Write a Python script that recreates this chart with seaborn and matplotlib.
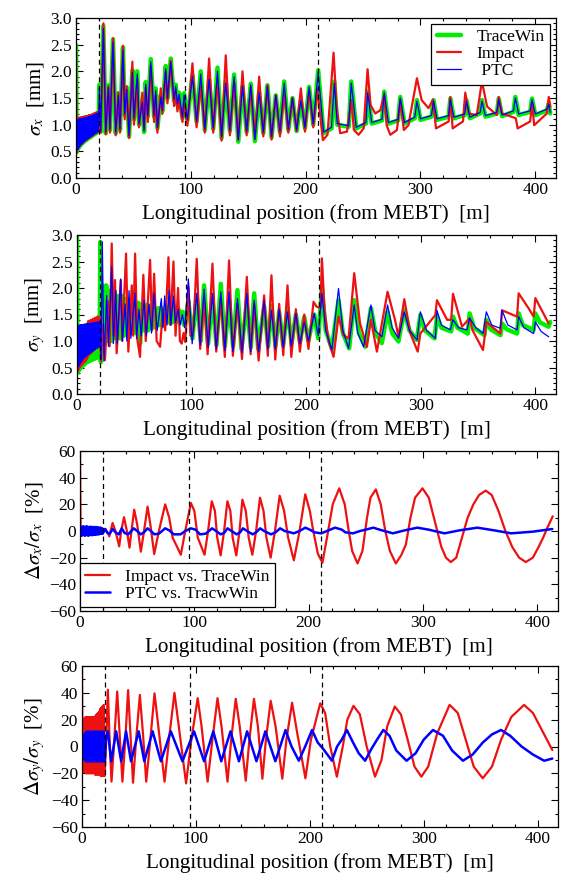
import numpy as np
import pandas as pd
import matplotlib
matplotlib.use("Agg")
import matplotlib.pyplot as plt
import seaborn as sns
from matplotlib.ticker import MultipleLocator

sns.set_theme(style="ticks")
plt.rcParams['font.family'] = ['Liberation Serif', 'DejaVu Serif']
plt.rcParams['mathtext.fontset'] = 'stix'
plt.rcParams['text.color'] = 'black'
plt.rcParams['axes.labelcolor'] = 'black'

# positions (m) of the fast oscillation in the first 20 m
fast_x = [0.0, 0.5, 1.0, 1.5, 2.0, 2.5, 3.0, 3.5, 4.0, 4.5, 5.0, 5.5, 6.0, 6.5, 7.0, 7.5,
          8.0, 8.5, 9.0, 9.5, 10.0, 10.5, 11.0, 11.5, 12.0, 12.5, 13.0, 13.5, 14.0, 14.5,
          15.0, 15.5, 16.0, 16.5, 17.0, 17.5, 18.0, 18.5, 19.0, 19.5]

# ---- sigma_x [mm] ----
sx_fast = [2.50, 0.48, 1.10, 0.53, 1.10, 0.57, 1.11, 0.60, 1.11, 0.63, 1.12, 0.65, 1.12, 0.67,
           1.13, 0.69, 1.13, 0.71, 1.14, 0.72, 1.14, 0.74, 1.15, 0.75, 1.16, 0.77, 1.16, 0.78,
           1.17, 0.80, 1.18, 0.81, 1.19, 0.83, 1.20, 0.84, 1.21, 0.86, 1.22, 0.87]
sx_ptc_fast = [0.50, 0.48, 1.10, 0.53, 1.10, 0.57, 1.11, 0.60, 1.11, 0.63, 1.12, 0.65, 1.12, 0.67,
               1.13, 0.69, 1.13, 0.71, 1.14, 0.72, 1.14, 0.74, 1.15, 0.75, 1.16, 0.77, 1.16, 0.78,
               1.17, 0.80, 1.18, 0.81, 1.19, 0.83, 1.20, 0.84, 1.21, 0.86, 1.22, 0.87]
sx_imp_fast = [2.50, 0.48, 1.12, 0.53, 1.12, 0.57, 1.13, 0.60, 1.13, 0.63, 1.14, 0.65, 1.14, 0.67,
               1.15, 0.69, 1.15, 0.71, 1.16, 0.72, 1.16, 0.74, 1.17, 0.75, 1.18, 0.77, 1.18, 0.78,
               1.19, 0.80, 1.20, 0.81, 1.21, 0.83, 1.22, 0.84, 1.23, 0.86, 1.24, 0.87]

sx_tw = [(19.9, 1.20), (20.3, 1.75), (21.5, 0.87), (23.8, 2.85), (25.9, 0.84), (28.2, 1.74),
         (29.6, 0.90), (32.2, 2.60), (34.6, 0.84), (36.9, 1.59), (38.3, 0.90), (40.9, 2.45),
         (42.4, 1.18), (44.1, 1.70), (46.2, 0.78), (49.1, 2.02), (50.5, 1.10), (53.4, 2.00),
         (54.9, 1.00), (57.8, 1.45), (59.3, 0.86), (60.7, 1.80), (62.5, 1.15), (65.1, 2.23),
         (68.0, 1.15), (69.4, 1.68), (70.9, 0.93), (73.8, 1.55), (75.2, 1.25), (78.1, 2.10),
         (79.6, 1.49), (82.5, 2.24), (85.4, 1.45), (86.8, 1.75), (88.3, 1.37), (89.8, 1.60),
         (92.7, 1.12), (94.1, 1.59), (97.0, 1.08),
         (101.4, 1.93), (105.0, 1.05), (108.6, 2.00), (112.2, 0.90), (115.9, 1.85), (119.5, 0.92),
         (123.2, 2.07), (126.8, 0.75), (130.4, 1.80), (134.0, 0.88), (137.7, 1.94), (141.3, 0.68),
         (145.0, 1.72), (148.6, 0.86), (152.2, 1.77), (155.8, 0.69), (159.5, 1.60), (163.1, 0.84),
         (166.7, 1.74), (170.3, 0.76), (174.0, 1.55), (177.6, 0.86), (181.3, 1.81), (184.9, 0.90),
         (188.5, 1.50), (192.1, 0.88), (195.8, 1.45), (199.4, 0.93), (203.0, 1.71), (206.6, 1.00),
         (210.9, 2.02),
         (215.6, 0.84), (222.5, 0.93), (224.9, 1.81), (227.5, 1.00), (237.5, 0.96), (239.7, 1.81),
         (244.0, 0.93), (252.5, 1.02), (254.0, 1.62), (257.5, 1.02), (266.5, 1.08), (268.4, 1.62),
         (272.0, 1.02), (280.5, 1.08), (282.4, 1.52), (286.0, 1.02), (295.0, 1.12), (296.9, 1.46),
         (300.0, 1.09), (309.5, 1.15), (311.4, 1.46), (314.3, 1.09), (324.5, 1.15), (326.0, 1.49),
         (329.0, 1.12), (338.5, 1.18), (340.0, 1.46), (343.0, 1.12), (352.0, 1.21), (353.5, 1.46),
         (356.5, 1.15), (366.5, 1.21), (368.1, 1.49), (371.0, 1.16), (381.0, 1.24), (382.6, 1.52),
         (385.5, 1.18), (395.5, 1.24), (397.1, 1.49), (400.0, 1.18), (410.0, 1.27), (411.7, 1.40),
         (413.0, 1.21)]

sx_ptc = [(19.9, 1.20), (20.3, 1.70), (21.5, 0.88), (23.8, 2.80), (25.9, 0.86), (28.2, 1.70),
          (29.6, 0.92), (32.2, 2.55), (34.6, 0.86), (36.9, 1.55), (38.3, 0.92), (40.9, 2.40),
          (42.4, 1.20), (44.1, 1.66), (46.2, 0.80), (49.1, 1.98), (50.5, 1.12), (53.4, 1.95),
          (54.9, 1.02), (57.8, 1.42), (59.3, 0.88), (60.7, 1.76), (62.5, 1.17), (65.1, 2.18),
          (68.0, 1.17), (69.4, 1.64), (70.9, 0.95), (73.8, 1.52), (75.2, 1.27), (78.1, 2.05),
          (79.6, 1.50), (82.5, 2.18), (85.4, 1.47), (86.8, 1.72), (88.3, 1.39), (89.8, 1.57),
          (92.7, 1.14), (94.1, 1.56), (97.0, 1.10),
          (101.4, 1.90), (105.0, 1.07), (108.6, 1.95), (112.2, 0.92), (115.9, 1.85), (119.5, 0.94),
          (123.2, 2.00), (126.8, 0.78), (130.4, 1.78), (134.0, 0.90), (137.7, 1.90), (141.3, 0.71),
          (145.0, 1.72), (148.6, 0.88), (152.2, 1.75), (155.8, 0.72), (159.5, 1.60), (163.1, 0.86),
          (166.7, 1.72), (170.3, 0.78), (174.0, 1.55), (177.6, 0.88), (181.3, 1.78), (184.9, 0.92),
          (188.5, 1.50), (192.1, 0.90), (195.8, 1.45), (199.4, 0.95), (203.0, 1.70), (206.6, 1.02),
          (210.9, 1.98),
          (215.6, 0.86), (222.5, 0.95), (224.9, 1.78), (227.5, 1.02), (237.5, 0.98), (239.7, 1.78),
          (244.0, 0.95), (252.5, 1.04), (254.0, 1.60), (257.5, 1.04), (266.5, 1.10), (268.4, 1.60),
          (272.0, 1.04), (280.5, 1.10), (282.4, 1.50), (286.0, 1.04), (295.0, 1.14), (296.9, 1.44),
          (300.0, 1.11), (309.5, 1.17), (311.4, 1.44), (314.3, 1.11), (324.5, 1.17), (326.0, 1.47),
          (329.0, 1.14), (338.5, 1.20), (340.0, 1.44), (343.0, 1.14), (352.0, 1.23), (353.5, 1.44),
          (356.5, 1.17), (366.5, 1.23), (368.1, 1.47), (371.0, 1.18), (381.0, 1.26), (382.6, 1.50),
          (385.5, 1.20), (395.5, 1.26), (397.1, 1.47), (400.0, 1.20), (410.0, 1.29), (411.7, 1.38),
          (413.0, 1.23)]

sx_imp = [(19.9, 1.25), (20.5, 1.30), (21.5, 0.85), (23.9, 2.90), (25.9, 0.82), (28.2, 1.72),
          (29.6, 0.85), (32.3, 2.62), (34.6, 0.80), (36.9, 1.60), (38.3, 0.85), (40.9, 2.48),
          (42.4, 1.10), (44.1, 1.72), (46.2, 0.75), (49.1, 2.18), (50.5, 1.00), (53.4, 1.85),
          (54.9, 0.95), (57.8, 1.60), (59.3, 0.90), (60.7, 1.70), (62.5, 1.05), (65.1, 2.10),
          (68.0, 1.05), (69.4, 1.55), (70.9, 0.85), (73.8, 1.68), (75.2, 1.20), (78.1, 2.00),
          (79.6, 1.40), (82.5, 2.20), (85.4, 1.35), (86.8, 1.65), (88.3, 1.25), (89.8, 1.45),
          (92.7, 1.05), (94.1, 1.40), (97.0, 0.98),
          (101.4, 2.15), (105.0, 0.95), (108.6, 1.75), (112.2, 0.85), (115.9, 2.24), (119.5, 0.85),
          (123.2, 1.85), (126.8, 0.70), (130.4, 2.30), (134.0, 0.80), (137.7, 1.80), (141.3, 0.72),
          (145.0, 2.00), (148.6, 0.80), (152.2, 1.70), (155.8, 0.75), (159.5, 1.90), (163.1, 0.78),
          (166.7, 1.74), (170.3, 0.72), (174.0, 1.55), (177.6, 0.78), (181.3, 1.60), (184.9, 0.85),
          (188.5, 1.50), (192.1, 0.88), (195.8, 1.68), (199.4, 0.87), (203.0, 1.65), (206.6, 0.95),
          (210.3, 1.67),
          (212.0, 1.30), (215.0, 0.71), (219.0, 0.81), (224.3, 2.35), (227.0, 1.31), (230.1, 0.84),
          (236.0, 0.87), (239.7, 1.46), (242.0, 0.90), (246.1, 0.81), (250.5, 0.93), (253.9, 2.04),
          (256.5, 1.37), (260.6, 1.21), (265.0, 1.27), (268.4, 1.56), (270.5, 0.99), (273.7, 0.81),
          (279.5, 0.90), (282.4, 1.46), (285.5, 0.90), (289.5, 0.99), (296.9, 1.87), (301.0, 1.46),
          (307.0, 1.31), (310.8, 1.47), (313.5, 0.93), (324.5, 1.06), (326.0, 1.52), (328.0, 0.93),
          (337.0, 1.06), (339.0, 1.60), (342.0, 1.21), (349.0, 1.18), (353.5, 1.81), (358.0, 1.34),
          (366.5, 1.18), (368.1, 1.52), (371.0, 1.21), (383.0, 1.12), (384.6, 0.93), (395.5, 1.06),
          (397.1, 1.40), (399.0, 0.99), (410.0, 1.21), (411.7, 1.52), (413.0, 1.34)]

# ---- sigma_y [mm] ----
sy_tw_fast = [3.00, 0.40, 1.20, 0.44, 1.21, 0.47, 1.23, 0.50, 1.24, 0.52, 1.25, 0.54, 1.27, 0.56,
              1.28, 0.58, 1.29, 0.60, 1.31, 0.61, 1.32, 0.62, 1.33, 0.63, 1.35, 0.64, 1.36, 0.65,
              1.37, 0.66, 1.39, 0.67, 1.40, 0.68, 1.41, 0.69, 1.43, 0.70, 1.45, 0.72]
sy_imp_fast = [0.50, 0.42, 1.28, 0.46, 1.28, 0.50, 1.29, 0.53, 1.29, 0.56, 1.30, 0.58, 1.30, 0.60,
               1.30, 0.62, 1.31, 0.66, 1.31, 0.70, 1.38, 0.74, 1.32, 0.76, 1.40, 0.78, 1.33, 0.80,
               1.42, 0.82, 1.34, 0.84, 1.44, 0.86, 1.35, 0.87, 1.46, 0.88, 1.36, 0.89]
sy_ptc_fast = [0.50, 0.48, 1.30, 0.52, 1.30, 0.56, 1.31, 0.60, 1.31, 0.63, 1.31, 0.66, 1.32, 0.68,
               1.32, 0.70, 1.32, 0.72, 1.33, 0.74, 1.33, 0.76, 1.33, 0.77, 1.34, 0.79, 1.34, 0.80,
               1.34, 0.82, 1.35, 0.83, 1.35, 0.85, 1.35, 0.86, 1.36, 0.88, 1.36, 0.89]

sy_tw = [(19.9, 1.45), (20.4, 2.87), (20.8, 0.60), (22.5, 2.05), (24.0, 0.95), (25.5, 2.05),
         (27.0, 1.00), (29.0, 1.95), (30.5, 1.00), (32.5, 1.95), (34.0, 1.05), (36.0, 1.85),
         (37.5, 1.05), (39.5, 1.85), (41.0, 1.10), (43.0, 1.80), (44.5, 1.10), (46.5, 1.78),
         (48.0, 1.15), (50.0, 1.75), (51.5, 1.15), (53.5, 1.72), (55.0, 0.95), (57.0, 1.70),
         (58.5, 1.20), (60.5, 1.68), (62.0, 1.20), (64.0, 1.65), (65.5, 1.25), (67.5, 1.62),
         (69.0, 1.25), (71.0, 1.62), (72.5, 1.30), (74.5, 1.62), (76.0, 1.30), (78.0, 1.65),
         (79.5, 1.35), (81.5, 1.70), (83.0, 1.35), (85.0, 1.65), (86.5, 1.35), (88.5, 1.60),
         (90.0, 1.35), (92.0, 1.55), (93.5, 1.30), (95.5, 1.50),
         (97.2, 1.75), (100.7, 1.05), (104.5, 1.85), (108.0, 1.00), (110.9, 2.05), (114.4, 0.95),
         (118.2, 1.80), (121.7, 0.92), (125.5, 2.08), (129.0, 0.90), (132.7, 1.75), (136.2, 0.90),
         (140.0, 1.96), (143.5, 0.85), (148.2, 1.70), (151.7, 0.88), (154.6, 1.90), (158.1, 0.85),
         (163.3, 1.65), (166.8, 0.90), (169.7, 1.66), (173.2, 0.90), (176.4, 1.55), (179.9, 0.92),
         (183.7, 1.62), (187.2, 0.95), (191.0, 1.50), (194.5, 0.98), (198.3, 1.45), (201.8, 1.00),
         (207.0, 1.50), (210.5, 1.05), (213.7, 1.99),
         (217.0, 1.20), (222.4, 0.86), (228.2, 1.77), (232.0, 1.15), (237.5, 0.86), (241.9, 1.77),
         (246.0, 1.15), (251.5, 0.89), (256.5, 1.62), (260.5, 1.15), (266.0, 0.96), (271.0, 1.55),
         (275.0, 1.15), (280.5, 0.99), (285.6, 1.58), (290.0, 1.20), (296.5, 1.02), (299.6, 1.49),
         (303.5, 1.20), (312.0, 1.05), (314.1, 1.46), (318.0, 1.25), (326.5, 1.18), (328.1, 1.46),
         (332.0, 1.25), (341.0, 1.14), (342.6, 1.52), (346.5, 1.25), (355.5, 1.11), (357.2, 1.40),
         (361.0, 1.22), (369.5, 1.11), (370.9, 1.33), (375.0, 1.22), (384.0, 1.14), (385.4, 1.52),
         (389.0, 1.30), (398.5, 1.21), (400.0, 1.52), (404.0, 1.35), (411.5, 1.27), (413.0, 1.36)]

sy_ptc = [(19.9, 1.36), (21.0, 0.65), (22.1, 2.87), (23.5, 0.62), (25.9, 1.86), (27.4, 0.90),
          (30.3, 2.40), (31.8, 0.95), (33.8, 1.95), (35.2, 0.95), (38.1, 2.17), (39.6, 1.00),
          (42.0, 1.70), (43.5, 1.00), (45.4, 1.95), (47.0, 1.05), (50.6, 1.90), (52.0, 1.05),
          (54.1, 1.60), (56.0, 1.10), (58.5, 1.77), (60.5, 1.10), (62.9, 1.70), (65.0, 1.15),
          (67.2, 1.90), (70.0, 1.20), (73.6, 1.80), (75.0, 1.25), (76.5, 1.85), (78.5, 1.30),
          (80.4, 1.96), (82.0, 1.30), (84.1, 1.85), (86.0, 1.35), (88.2, 1.60), (90.0, 1.30),
          (92.0, 1.50), (94.0, 1.25),
          (97.2, 2.17), (100.5, 0.95), (104.5, 1.90), (107.5, 0.92), (110.9, 1.98), (114.5, 0.88),
          (118.2, 1.90), (121.5, 0.85), (125.5, 1.93), (129.0, 0.82), (132.7, 1.93), (136.0, 0.80),
          (140.0, 1.80), (144.0, 0.78), (148.2, 1.90), (151.5, 0.80), (154.6, 1.77), (158.5, 0.80),
          (163.3, 1.77), (166.5, 0.85), (169.7, 1.58), (173.0, 0.85), (176.4, 1.60), (180.0, 0.88),
          (183.7, 1.55), (187.0, 0.90), (191.0, 1.52), (194.5, 0.95), (198.3, 1.36), (202.0, 1.00),
          (207.0, 1.52), (210.5, 1.10), (213.7, 1.90),
          (217.0, 1.20), (222.4, 0.83), (228.2, 1.99), (232.0, 1.20), (237.0, 0.86), (241.9, 1.68),
          (245.0, 1.15), (250.1, 0.89), (256.5, 1.68), (260.0, 1.20), (266.1, 1.08), (271.0, 1.68),
          (275.0, 1.25), (280.6, 1.05), (285.6, 1.55), (290.0, 1.20), (296.7, 1.02), (299.6, 1.55),
          (305.0, 1.20), (312.7, 1.05), (314.1, 1.58), (318.0, 1.30), (325.8, 1.21), (328.1, 1.40),
          (333.0, 1.25), (340.3, 1.21), (342.6, 1.43), (348.0, 1.25), (354.3, 1.14), (357.2, 1.55),
          (362.0, 1.30), (369.4, 1.24), (370.9, 1.58), (376.0, 1.30), (384.0, 1.21), (385.4, 1.46),
          (390.0, 1.25), (398.5, 1.14), (400.0, 1.36), (405.0, 1.18), (411.6, 1.08)]

sy_imp = [(19.9, 1.45), (21.0, 0.62), (22.3, 1.30), (24.4, 0.64), (27.0, 1.75), (28.5, 0.90),
          (30.3, 2.84), (32.0, 1.10), (33.2, 2.15), (34.6, 0.77), (36.5, 1.50), (38.2, 2.15),
          (39.5, 1.00), (42.8, 2.65), (44.8, 0.80), (47.8, 2.05), (49.0, 1.10), (50.7, 2.65),
          (52.5, 1.05), (55.0, 0.70), (57.9, 2.25), (60.0, 1.00), (63.8, 2.53), (65.5, 1.20),
          (67.3, 2.27), (69.5, 1.00), (72.5, 0.89), (75.0, 1.60), (77.0, 1.20), (79.8, 2.58),
          (81.5, 1.30), (84.2, 2.50), (86.0, 1.10), (88.2, 2.00), (89.8, 1.00), (91.4, 0.95),
          (93.0, 1.15), (94.5, 0.98),
          (97.2, 2.02), (99.0, 1.10), (101.5, 1.20), (104.5, 2.55), (107.5, 0.85), (110.9, 1.75),
          (114.0, 0.75), (118.2, 2.46), (121.5, 0.80), (125.5, 1.80), (129.0, 0.70), (132.7, 2.52),
          (136.0, 0.72), (140.0, 1.70), (144.0, 0.66), (148.2, 2.21), (151.5, 0.75), (154.6, 1.70),
          (158.5, 0.63), (163.3, 1.86), (166.5, 0.72), (169.7, 2.24), (173.0, 0.65), (176.4, 1.70),
          (180.0, 0.73), (183.7, 2.05), (187.0, 0.70), (191.0, 1.60), (194.5, 0.80), (198.3, 1.50),
          (202.0, 0.85), (206.4, 1.74), (209.0, 1.65), (212.5, 1.62), (213.7, 2.56),
          (216.0, 1.60), (219.5, 1.00), (223.9, 0.70), (228.2, 1.46), (232.5, 1.11), (237.0, 1.05),
          (241.9, 2.28), (247.0, 1.33), (253.0, 0.89), (256.5, 1.40), (261.7, 0.80), (271.0, 1.93),
          (277.5, 1.40), (280.6, 1.08), (285.6, 1.79), (291.0, 1.14), (297.3, 0.80), (299.6, 1.14),
          (312.7, 1.49), (314.1, 1.77), (323.0, 1.40), (326.5, 1.40), (328.1, 1.89), (336.0, 1.27),
          (342.6, 1.43), (345.0, 1.21), (354.3, 0.83), (356.5, 1.21), (357.2, 1.36), (369.4, 1.14),
          (370.9, 1.58), (384.0, 1.46), (385.4, 1.90), (394.0, 1.62), (398.5, 1.46), (400.0, 1.81),
          (411.6, 1.33)]

# ---- relative difference in sigma_x [%] ----
dsx_imp_fast = [60.0, 0.0, 1.5, -1.5, 1.5, -1.5, 1.5, -1.5, 1.5, -1.5, 1.5, -1.5, 1.5, -1.5,
                1.5, -1.5, 1.5, -1.5, 1.5, -1.5, 1.5, -1.5, 1.5, -1.5, 1.5, -1.5, 1.5, -1.5,
                1.5, -1.5, 1.5, -1.5, 1.5, -1.5, 1.5, -1.5, 1.5, -1.5, 1.5, -1.5]
dsx_ptc_fast = [0.0, -3.5, 3.0, -3.5, 3.2, -3.0, 3.5, -3.2, 3.0, -3.5, 3.2, -3.0, 3.5, -3.2,
                3.0, -3.5, 3.0, -3.0, 3.2, -3.0, 3.0, -3.2, 3.0, -2.8, 3.0, -3.0, 2.8, -2.8,
                3.0, -2.5, 2.8, -2.5, 2.5, -2.5, 2.5, -2.2, 2.5, -2.0, 2.2, -2.0]

dsx_imp = [(19.9, 0.0), (22.0, 1.5), (24.0, -1.0), (25.6, -4.0), (28.5, 6.0), (31.0, 0.0),
           (34.3, -11.5), (36.0, 0.0), (38.5, 10.3), (41.0, 0.0), (43.3, -12.5), (45.0, 0.0),
           (47.4, 16.0), (50.0, 5.0), (53.2, -15.5), (56.0, 0.0), (59.1, 18.3), (61.5, 5.0),
           (64.9, -17.3), (69.0, 0.0), (74.5, 20.0), (78.0, 10.0), (81.0, -5.0), (88.2, -17.8),
           (92.0, 0.0), (97.0, 21.0), (100.0, 15.0), (103.0, -5.0), (108.9, -17.8), (112.0, 0.0),
           (115.2, 22.3), (118.0, 15.0), (120.0, -5.0), (123.0, -18.3), (126.0, 0.0), (128.9, 22.3),
           (131.5, 15.0), (133.5, -5.0), (136.7, -18.3), (139.5, 0.0), (142.0, 23.5), (145.0, 15.0),
           (147.5, -5.0), (150.7, -17.8), (154.0, 0.0), (157.4, 25.0), (160.5, 15.0), (163.0, -5.0),
           (166.7, -20.0), (170.5, 0.0), (174.6, 26.5), (178.5, 15.0), (182.0, -5.0), (187.0, -22.0),
           (192.0, 0.0), (197.0, 27.5), (201.0, 15.0), (204.0, 0.0), (208.0, -17.0), (212.0, -23.8),
           (217.0, 0.0), (221.0, 20.0), (226.7, 32.0), (231.5, 20.0), (235.0, 0.0), (238.0, -15.0),
           (242.7, -24.3), (247.0, -15.0), (251.0, 10.0), (254.0, 25.0), (258.7, 31.2), (263.0, 20.0),
           (267.0, 0.0), (271.0, -15.0), (276.2, -24.3), (281.0, -18.0), (285.0, -10.0), (289.0, 10.0),
           (293.0, 25.0), (299.5, 32.0), (305.0, 25.0), (311.0, 5.0), (316.0, -12.0), (320.0, -20.0),
           (324.3, -23.3), (329.0, -20.0), (334.0, -5.0), (339.0, 10.0), (344.0, 20.0), (349.0, 27.0),
           (354.8, 30.3), (360.0, 27.0), (366.0, 15.0), (372.0, 0.0), (378.0, -12.0), (384.0, -20.0),
           (389.8, -23.3), (396.0, -20.0), (401.0, -12.0), (405.0, -5.0), (409.0, 3.0), (413.4, 11.0)]

dsx_ptc = [(19.9, -2.0), (22.0, 1.5), (24.0, -1.5), (26.0, -2.0), (28.5, 1.5), (31.0, -1.0),
           (34.0, -2.5), (36.5, 2.0), (39.0, -1.5), (42.0, -2.5), (45.0, 0.0), (47.0, 2.0),
           (50.0, 0.0), (53.0, -2.5), (56.0, -1.0), (59.0, 2.0), (62.0, 0.0), (65.0, -2.5),
           (69.0, -2.0), (74.5, 2.0), (78.0, 0.5), (82.0, -2.5), (88.0, -2.5), (92.0, 0.0),
           (97.0, 2.0), (101.0, 1.0), (105.0, -2.5), (110.0, -2.0), (115.5, 2.0), (119.0, 0.0),
           (123.0, -2.5), (126.0, -1.5), (129.0, 2.0), (132.5, 0.0), (137.0, -2.5), (140.0, -1.0),
           (142.5, 2.0), (146.0, 0.0), (151.0, -2.5), (154.0, -1.0), (157.5, 2.0), (161.0, 0.0),
           (167.0, -2.5), (171.0, -1.0), (175.0, 2.0), (179.0, 0.0), (187.0, -1.75), (192.0, 0.0),
           (197.0, 2.5), (201.0, 1.0), (205.0, -1.0), (211.0, -1.75), (216.0, 0.0), (223.0, 2.5),
           (229.0, 1.0), (232.0, -1.0), (238.7, -1.75), (245.0, 0.0), (256.6, 2.5), (262.0, 1.0),
           (273.6, -1.75), (284.0, 0.5), (295.0, 2.5), (305.0, 1.0), (318.7, -1.75), (332.0, 0.5),
           (347.5, 2.5), (362.0, 0.5), (377.0, -1.75), (396.0, -0.5), (413.0, 1.5)]

# ---- relative difference in sigma_y [%] ----
dsy_imp_fast = [60.0, -18.0, 20.0, -19.0, 21.0, -19.0, 22.0, -20.0, 22.0, -20.0, 22.0, -20.0,
                22.0, -20.0, 22.0, -20.0, 22.0, -20.0, 22.0, -20.0, 22.0, -20.0, 22.0, -21.0,
                23.0, -21.0, 24.0, -21.0, 25.0, -21.0, 26.0, -21.0, 28.0, -22.0, 29.0, -22.0,
                30.0, -22.0, 31.0, -22.0]
dsy_ptc_fast = [0.0, -8.0, 8.0, -9.0, 9.0, -10.0, 10.0, -11.0, 11.0, -11.0, 11.0, -11.0, 11.0,
                -11.0, 11.0, -11.0, 11.0, -11.0, 11.0, -11.0, 11.0, -11.0, 11.0, -11.0, 11.0,
                -11.0, 11.0, -11.0, 11.0, -11.0, 11.0, -11.0, 11.0, -11.0, 11.0, -11.0, 11.0,
                -11.0, 11.0, -11.0]

dsy_imp = [(19.9, -22.0), (21.5, 10.0), (22.7, 42.3), (24.0, 10.0), (25.9, -26.2), (28.0, 0.0),
           (30.9, 41.0), (33.0, 10.0), (35.5, -26.2), (38.0, 5.0), (40.5, 42.0), (42.5, 10.0),
           (44.8, -27.0), (47.5, 5.0), (50.8, 38.4), (53.5, 10.0), (56.4, -26.2), (60.0, 5.0),
           (63.7, 39.6), (67.0, 15.0), (72.5, -26.2), (77.0, 10.0), (81.2, 40.0), (85.0, 15.0),
           (91.4, -27.5), (96.0, 5.0), (101.6, 36.0), (105.0, 15.0), (110.3, -26.2), (114.5, 5.0),
           (119.0, 36.0), (122.5, 15.0), (127.8, -26.2), (131.0, 5.0), (135.0, 35.5), (138.5, 15.0),
           (143.8, -25.5), (147.0, 5.0), (151.0, 35.5), (154.5, 15.0), (158.4, -24.0), (161.5, 5.0),
           (165.7, 34.0), (170.0, 15.0), (175.9, -24.0), (179.5, 5.0), (184.5, 32.6), (189.0, 10.0),
           (196.2, -23.7), (201.0, 5.0), (209.2, 32.2), (213.5, 25.0), (218.0, 0.0), (223.8, -22.5),
           (229.0, 0.0), (233.0, 20.0), (238.4, 30.3), (244.0, 24.0), (250.0, 0.0), (257.3, -22.5),
           (263.0, -10.0), (268.0, 15.0), (274.7, 29.8), (280.0, 24.0), (286.0, 5.0), (292.0, -15.0),
           (298.0, -22.5), (304.0, -15.0), (312.0, 10.0), (322.8, 31.0), (330.0, 25.0), (337.0, 5.0),
           (344.0, -15.0), (351.9, -23.7), (360.0, -15.0), (368.0, 5.0), (377.0, 22.0), (388.2, 31.0),
           (396.0, 25.0), (404.0, 12.0), (413.0, -2.6)]

dsy_ptc = [(19.9, -11.0), (21.0, 5.0), (22.7, 11.3), (25.6, -11.0), (30.0, 11.3), (34.4, -11.0),
           (38.7, 11.3), (43.0, -11.0), (49.8, 11.3), (54.7, -11.0), (62.0, 11.3), (69.3, -11.0),
           (78.0, 11.3), (88.2, -11.0), (98.4, 11.3), (107.2, -11.0), (115.3, 11.3), (122.3, -11.0),
           (130.4, 11.3), (137.8, -11.0), (145.0, 11.3), (153.2, -11.0), (161.0, 11.3), (169.8, -11.0),
           (178.7, 12.3), (184.0, 0.0), (190.4, -10.6), (196.0, 0.0), (202.0, 12.3), (207.0, 3.0),
           (212.0, -2.0), (219.5, -10.6), (224.0, 0.0), (228.0, 5.0), (232.6, 12.3), (238.0, 3.0),
           (243.0, -5.0), (248.6, -10.6), (254.0, -2.0), (259.0, 5.0), (264.6, 12.3), (270.0, 8.0),
           (276.0, -3.0), (285.0, -10.6), (293.0, -5.0), (300.0, 5.0), (308.2, 12.3), (317.0, 8.0),
           (325.0, -3.0), (334.5, -10.6), (343.0, -6.0), (352.0, 3.0), (360.0, 9.0), (368.0, 12.3),
           (376.0, 8.0), (386.0, 0.0), (396.0, -6.0), (405.8, -10.6), (413.0, -9.0)]

section_marks = [20, 95, 211]


def series(fast, slow):
    xs = list(fast_x) + [p[0] for p in slow]
    ys = list(fast) + [p[1] for p in slow]
    return pd.DataFrame({'s': xs, 'v': ys})


GREEN, RED, BLUE = '#00ee00', '#ee1111', '#0000ff'
xlabel = "Longitudinal position (from MEBT)  [m]"

fig = plt.figure(figsize=(5.61, 8.74), dpi=100)
W, H = 561, 874
boxes = [(76, 18, 556, 178), (77, 235, 556, 394), (80, 451, 558, 611), (82, 666, 558, 827)]
axes = [fig.add_axes([l / W, 1 - b / H, (r - l) / W, (b - t) / H]) for l, t, r, b in boxes]

# panel 1
ax = axes[0]
sns.lineplot(data=series(sx_fast, sx_tw), x='s', y='v', sort=False, estimator=None,
             color=GREEN, lw=3.2, ax=ax, label='TraceWin')
sns.lineplot(data=series(sx_imp_fast, sx_imp), x='s', y='v', sort=False, estimator=None,
             color=RED, lw=1.6, ax=ax, label='Impact')
sns.lineplot(data=series(sx_ptc_fast, sx_ptc), x='s', y='v', sort=False, estimator=None,
             color=BLUE, lw=0.9, ax=ax, label=' PTC')
ax.set_ylim(0, 3.0)
ax.set_ylabel(r'$\sigma_x$  [mm]', fontsize=15, labelpad=3)

# panel 2
ax = axes[1]
sns.lineplot(data=series(sy_tw_fast, sy_tw), x='s', y='v', sort=False, estimator=None,
             color=GREEN, lw=3.2, ax=ax)
sns.lineplot(data=series(sy_imp_fast, sy_imp), x='s', y='v', sort=False, estimator=None,
             color=RED, lw=1.6, ax=ax)
sns.lineplot(data=series(sy_ptc_fast, sy_ptc), x='s', y='v', sort=False, estimator=None,
             color=BLUE, lw=0.9, ax=ax)
ax.set_ylim(0, 3.0)
ax.set_ylabel(r'$\sigma_y$  [mm]', fontsize=15, labelpad=3)

# panel 3
ax = axes[2]
sns.lineplot(data=series(dsx_imp_fast, dsx_imp), x='s', y='v', sort=False, estimator=None,
             color=RED, lw=1.6, ax=ax, label='Impact vs. TraceWin')
sns.lineplot(data=series(dsx_ptc_fast, dsx_ptc), x='s', y='v', sort=False, estimator=None,
             color=BLUE, lw=1.8, ax=ax, label='PTC vs. TracwWin')
ax.set_ylim(-60, 60)
ax.set_ylabel(r'$\Delta\sigma_x/\sigma_x$  [%]', fontsize=15, labelpad=3)

# panel 4
ax = axes[3]
sns.lineplot(data=series(dsy_imp_fast, dsy_imp), x='s', y='v', sort=False, estimator=None,
             color=RED, lw=1.6, ax=ax)
sns.lineplot(data=series(dsy_ptc_fast, dsy_ptc), x='s', y='v', sort=False, estimator=None,
             color=BLUE, lw=1.8, ax=ax)
ax.set_ylim(-60, 60)
ax.set_ylabel(r'$\Delta\sigma_y/\sigma_y$  [%]', fontsize=15, labelpad=3)

for i, ax in enumerate(axes):
    ax.set_xlim(0, 418)
    for xm in section_marks:
        ax.axvline(xm, color='black', lw=0.9, ls=(0, (4, 3)), zorder=5)
    ax.set_xlabel(xlabel, fontsize=15.2, labelpad=4)
    ax.xaxis.set_major_locator(MultipleLocator(100))
    ax.xaxis.set_minor_locator(MultipleLocator(20))
    if i < 2:
        ax.yaxis.set_major_locator(MultipleLocator(0.5))
        ax.yaxis.set_minor_locator(MultipleLocator(0.1))
        ax.yaxis.set_major_formatter(plt.FormatStrFormatter('%.1f'))
    else:
        ax.yaxis.set_major_locator(MultipleLocator(20))
        ax.yaxis.set_minor_locator(MultipleLocator(10))
    ax.tick_params(which='both', direction='in', top=True, right=True, labelsize=12.5,
                   colors='black', width=0.8)
    ax.tick_params(which='major', length=5, pad=3)
    ax.tick_params(which='minor', length=2.5)
    for sp in ax.spines.values():
        sp.set_visible(True)
        sp.set_linewidth(0.9)
        sp.set_color('black')
    if ax.get_legend() is not None:
        ax.get_legend().remove()

leg = axes[0].legend(loc='upper right', fontsize=12.5, frameon=True, fancybox=False,
                     framealpha=1, edgecolor='black', borderaxespad=0.35, handlelength=1.4,
                     handletextpad=0.9, labelspacing=0.05, borderpad=0.3)
leg.get_frame().set_linewidth(0.9)
leg = axes[2].legend(loc='lower left', bbox_to_anchor=(0.0, 0.025), fontsize=12.5,
                     frameon=True, fancybox=False, framealpha=1, edgecolor='black',
                     borderaxespad=0.0, handlelength=1.4, handletextpad=0.9,
                     labelspacing=0.05, borderpad=0.3)
leg.get_frame().set_linewidth(0.9)

fig.savefig('out.png', dpi=100)
